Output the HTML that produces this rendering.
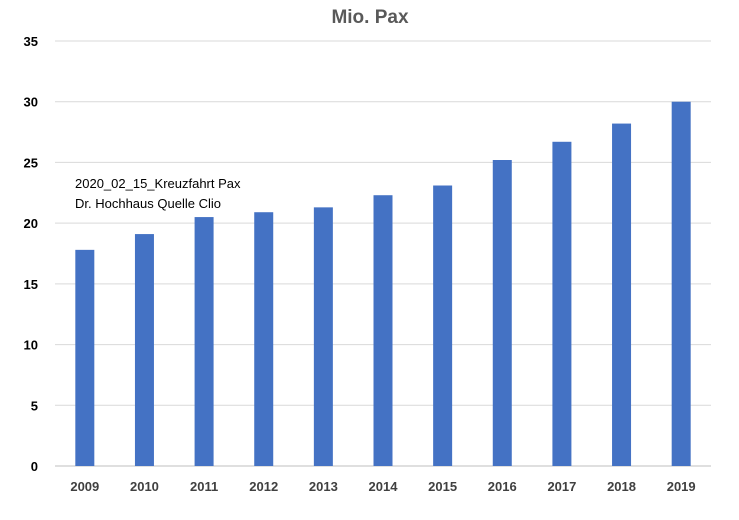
<!DOCTYPE html>
<html><head><meta charset="utf-8"><style>
body{margin:0;background:#fff;font-family:"Liberation Sans",sans-serif}
</style></head><body>
<svg id="chart" width="739" height="515">
<text x="370" y="23" text-anchor="middle" font-size="19" font-weight="bold" fill="#595959">Mio. Pax</text>
<g id="grid"></g><g id="bars"></g><g id="xl"></g><g id="yl"></g>
<text x="75" y="188" font-size="13" fill="#000">2020_02_15_Kreuzfahrt Pax</text>
<text x="75" y="208" font-size="13" fill="#000">Dr. Hochhaus Quelle Clio</text>
</svg>
<script>
const categories=["2009","2010","2011","2012","2013","2014","2015","2016","2017","2018","2019"];
const values=[17.8,19.1,20.5,20.9,21.3,22.3,23.1,25.2,26.7,28.2,30.0];
const yTicks=[0,5,10,15,20,25,30,35];
const x0=55,x1=711,yBase=466,yTop=41,yMax=35;
const y=v=>yBase-(v/yMax)*(yBase-yTop);
const bw=(x1-x0)/categories.length;
const xc=i=>x0+bw*(i+0.5);
const ns="http://www.w3.org/2000/svg";
function mk(t,a,p){const e=document.createElementNS(ns,t);for(const k in a)e.setAttribute(k,a[k]);p.appendChild(e);return e;}
const g=document.getElementById('grid'),b=document.getElementById('bars'),xl=document.getElementById('xl'),yl=document.getElementById('yl');
yTicks.forEach(t=>{
 const l=mk('line',{x1:x0,x2:x1,y1:y(t),y2:y(t),stroke:t===0?'#bfbfbf':'#d9d9d9','stroke-width':1},g);
 
 
 const tx=mk('text',{x:38,y:y(t)+5,'text-anchor':'end','font-size':13,'font-weight':'bold',fill:'#000'},yl);
 tx.textContent=t;
 
 
});
categories.forEach((c,i)=>{
 const r=mk('rect',{x:xc(i)-9.5,y:y(values[i]),width:19,height:yBase-y(values[i]),fill:'#4472c4'},b);
 
 
 const tx=mk('text',{x:xc(i),y:491,'text-anchor':'middle','font-size':13,'font-weight':'bold',fill:'#404040'},xl);
 tx.textContent=c;
 
 
});
</script>
</body></html>
